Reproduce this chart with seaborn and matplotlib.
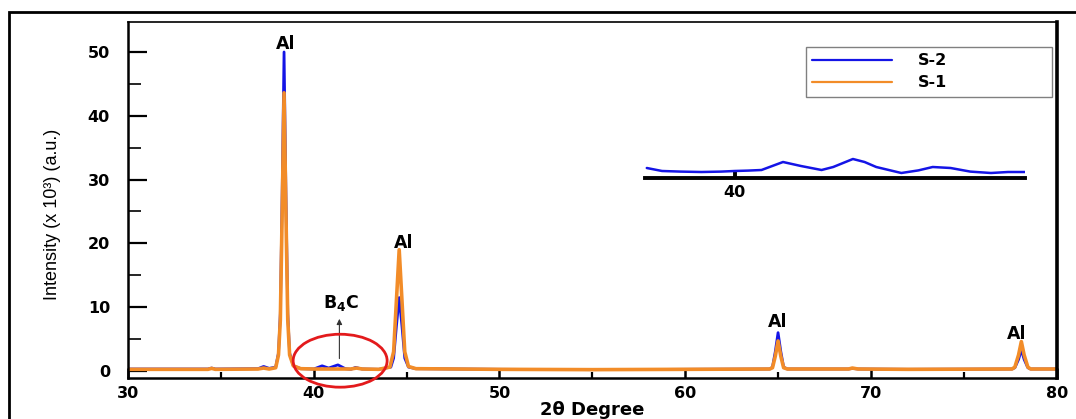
import matplotlib
matplotlib.use("Agg")
import matplotlib.pyplot as plt
from matplotlib.patches import Ellipse, Rectangle
from matplotlib.ticker import MultipleLocator
import seaborn as sns

# XRD scans, 2-theta (deg) vs intensity (x10^3 counts)
s2_theta = [30.0, 34.3, 34.5, 34.7, 37.0, 37.3, 37.6, 37.95, 38.1, 38.2, 38.3,
            38.4, 38.5, 38.6, 38.7, 38.9, 39.3, 40.0, 40.45, 40.8, 41.3, 41.7,
            42.0, 42.25, 42.6, 43.5, 44.15, 44.3, 44.45, 44.6, 44.75, 44.9,
            45.1, 45.5, 50.0, 55.0, 60.0, 64.55, 64.7, 64.85, 65.0, 65.15,
            65.3, 65.5, 68.8, 69.0, 69.3, 72.0, 77.6, 77.75, 77.95, 78.1,
            78.25, 78.45, 78.6, 80.0]
s2_int = [0.3, 0.3, 0.45, 0.3, 0.35, 0.7, 0.4, 0.6, 2.8, 9.0, 28.0,
          50.0, 28.0, 9.0, 2.8, 0.8, 0.35, 0.3, 0.8, 0.45, 0.95, 0.35,
          0.25, 0.55, 0.3, 0.25, 0.6, 2.0, 7.0, 11.5, 7.0, 2.0,
          0.6, 0.35, 0.25, 0.2, 0.25, 0.3, 0.6, 3.0, 6.0, 3.0,
          0.6, 0.3, 0.3, 0.4, 0.3, 0.25, 0.3, 0.5, 1.8, 3.3,
          1.8, 0.5, 0.3, 0.3]

s1_theta = [30.0, 34.3, 34.5, 34.7, 37.0, 37.3, 37.6, 37.95, 38.1, 38.2, 38.3,
            38.4, 38.5, 38.6, 38.7, 38.9, 39.3, 40.0, 41.0, 42.0, 42.3, 42.6,
            43.5, 44.1, 44.3, 44.45, 44.6, 44.75, 44.9, 45.1, 45.5, 50.0,
            55.0, 60.0, 64.55, 64.7, 64.85, 65.0, 65.15, 65.3, 65.5, 68.8,
            69.0, 69.3, 72.0, 77.6, 77.75, 77.95, 78.1, 78.25, 78.45, 78.6,
            80.0]
s1_int = [0.25, 0.25, 0.4, 0.25, 0.3, 0.45, 0.3, 0.5, 2.5, 8.0, 25.0,
          43.6, 25.0, 8.0, 2.5, 0.8, 0.35, 0.3, 0.3, 0.3, 0.45, 0.3,
          0.25, 0.6, 3.0, 11.0, 19.0, 11.0, 3.0, 0.7, 0.35, 0.25,
          0.2, 0.25, 0.3, 0.5, 2.3, 4.7, 2.3, 0.5, 0.3, 0.3,
          0.45, 0.3, 0.25, 0.3, 0.6, 2.5, 4.6, 2.5, 0.6, 0.3,
          0.3]

# Magnified S-2 scan over the B4C region
zoom_theta = [39.02, 39.19, 39.4, 39.63, 39.85, 40.0, 40.15, 40.3, 40.42, 40.54,
              40.74, 40.97, 41.1, 41.32, 41.45, 41.58, 41.86, 42.05, 42.21,
              42.41, 42.63, 42.86, 43.05, 43.24]
zoom_int = [0.5, 0.35, 0.32, 0.3, 0.32, 0.35, 0.37, 0.4, 0.6, 0.8,
            0.6, 0.4, 0.55, 0.95, 0.8, 0.55, 0.25, 0.38, 0.55,
            0.5, 0.32, 0.25, 0.3, 0.3]

peak_labels = ["Al", "Al", "Al", "Al"]
peak_label_pos = [(38.5, 51.3), (44.85, 20.0), (65.0, 7.6), (77.85, 5.8)]

blue = "#1414e6"
orange = "#f28c28"

sns.set_theme(style="ticks")
plt.rcParams["font.family"] = ["DejaVu Sans"]
plt.rcParams["mathtext.fontset"] = "custom"
plt.rcParams["mathtext.rm"] = "DejaVu Sans"
plt.rcParams["mathtext.bf"] = "DejaVu Sans:bold"
for key in ["text.color", "axes.labelcolor", "xtick.color", "ytick.color",
            "axes.edgecolor"]:
    plt.rcParams[key] = "black"

fig = plt.figure(figsize=(10.76, 4.19), dpi=100)
fig.patch.set_facecolor("white")
ax = fig.add_axes([0.119, 0.098, 0.863, 0.8495])

sns.lineplot(x=s2_theta, y=s2_int, ax=ax, color=blue, lw=2.0, label="S-2")
sns.lineplot(x=s1_theta, y=s1_int, ax=ax, color=orange, lw=2.6, label="S-1")

ax.set_xlim(30, 80)
ax.set_ylim(-1.1, 54.7)
ax.xaxis.set_major_locator(MultipleLocator(10))
ax.xaxis.set_minor_locator(MultipleLocator(5))
ax.yaxis.set_major_locator(MultipleLocator(10))
ax.yaxis.set_minor_locator(MultipleLocator(5))
ax.tick_params(axis="y", which="major", direction="in", length=14, width=1.6,
               pad=13, labelsize=11.5)
ax.tick_params(axis="y", which="minor", direction="in", length=9, width=1.2)
ax.tick_params(axis="x", which="major", direction="in", length=7, width=1.8,
               pad=6, labelsize=11.5)
ax.tick_params(axis="x", which="minor", direction="in", length=4, width=1.6)
for lab in ax.get_xticklabels() + ax.get_yticklabels():
    lab.set_fontweight("bold")
for side, lw in [("left", 1.8), ("bottom", 1.8), ("right", 2.6), ("top", 1.2)]:
    ax.spines[side].set_linewidth(lw)
    ax.spines[side].set_color("black")

ax.set_xlabel("2θ Degree", fontsize=13, fontweight="bold", labelpad=0)
ax.set_ylabel("Intensity (x 10³) (a.u.)", fontsize=13,
              family=["Liberation Sans"])
ax.yaxis.set_label_coords(-0.072, 0.46)

for txt, (px, py) in zip(peak_labels, peak_label_pos):
    ax.text(px, py, txt, ha="center", va="center", fontsize=12.5,
            fontweight="bold")

# B4C reflections marked with circle and arrow
ax.add_patch(Ellipse((41.42, 1.6), 5.06, 8.3, fill=False, edgecolor="#e31a1c",
                     lw=2, clip_on=False, zorder=5))
ax.annotate("", xy=(41.38, 8.6), xytext=(41.38, 1.5),
            arrowprops=dict(arrowstyle="-|>", color="#333333", lw=0.8,
                            mutation_scale=8))
ax.text(41.45, 10.7, r"$\mathbf{B_4C}$", ha="center", va="center",
        fontsize=12.5)

leg = ax.legend(loc="upper left", bbox_to_anchor=(0.730, 0.809, 0.265, 0.121),
                mode="expand", borderaxespad=0, frameon=True, fancybox=False,
                framealpha=1, edgecolor="#808080", handlelength=5.0,
                handletextpad=1.6, fontsize=11.5, labelspacing=0.45,
                borderpad=0.4)
leg.get_frame().set_linewidth(1.0)
for t in leg.get_texts():
    t.set_fontweight("bold")
for h in leg.legend_handles:
    h.set_linewidth(1.6)

# Inset: magnified B4C region
inset = fig.add_axes([645 / 1076, 1 - 178 / 419, 380 / 1076, 28 / 419])
sns.lineplot(x=zoom_theta, y=zoom_int, ax=inset, color=blue, lw=1.8)
inset.set_xlim(39.0, 43.24)
inset.set_ylim(0, 1.4)
inset.patch.set_alpha(0)
for side in ["left", "right", "top"]:
    inset.spines[side].set_visible(False)
inset.spines["bottom"].set_linewidth(2.8)
inset.set_yticks([])
inset.set_xticks([40])
inset.tick_params(axis="x", direction="in", length=6, width=2.8, pad=5,
                  labelsize=11.5)
for lab in inset.get_xticklabels():
    lab.set_fontweight("bold")

# Outer frame
fig.patches.append(Rectangle((9 / 1076, -0.2), 1.2, 1.2 - 12 / 419,
                             transform=fig.transFigure, fill=False,
                             edgecolor="black", lw=2))

fig.savefig("out.png", dpi=100)
